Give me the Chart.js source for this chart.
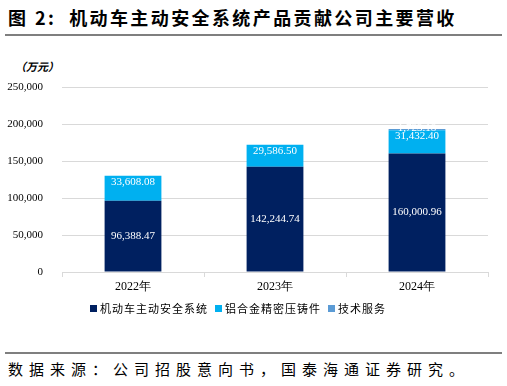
<!DOCTYPE html>
<html><head><meta charset="utf-8">
<script src="https://cdn.jsdelivr.net/npm/chart.js@4/dist/chart.umd.min.js"></script>
<style>
html,body{margin:0;padding:0;background:#fff;width:507px;height:386px;overflow:hidden;font-family:"Noto Sans CJK SC",sans-serif;}
#title{position:absolute;left:8px;top:4px;font-size:18px;font-weight:bold;color:#000;letter-spacing:2.4px;white-space:nowrap;}
.rule{position:absolute;left:5px;width:497px;height:2px;background:#7f7f7f;}
#unit{position:absolute;left:15px;top:58px;font-size:11px;font-weight:bold;font-style:italic;color:#000;}
#src{position:absolute;left:8px;top:358px;font-size:15px;color:#000;letter-spacing:6px;white-space:nowrap;}
#wrap{position:absolute;left:0;top:55px;width:507px;height:250px;}
#legend{position:absolute;top:300px;left:0;width:507px;font-size:11px;color:#000;}
.li{position:absolute;top:0;display:flex;align-items:center;letter-spacing:1px;}
.sw{width:7px;height:7px;margin-right:3px;}
</style></head>
<body>
<div id="title">图 2:&nbsp; 机动车主动安全系统产品贡献公司主要营收</div>
<div class="rule" style="top:34px"></div>
<div id="unit">（万元）</div>
<div id="wrap"><canvas id="c"></canvas></div>
<div id="legend"></div>
<div class="rule" style="top:352px"></div>
<div id="src">数据来源：公司招股意向书，国泰海通证券研究。</div>
<script>
const categories = ["2022年", "2023年", "2024年"];
const seriesNames = ["机动车主动安全系统", "铝合金精密压铸件", "技术服务"];
const activeSafety = [96388.47, 142244.74, 160000.96];
const aluminumCasting = [33608.08, 29586.50, 31432.40];
const techService = [0, 0, 1723.18];
const yTicks = [0, 50000, 100000, 150000, 200000, 250000];
const colors = ["#002060", "#00B0F0", "#5B9BD5"];

const fmt = v => v.toLocaleString('en-US', {minimumFractionDigits: 2, maximumFractionDigits: 2});

const legendPos = [90, 215, 328];
const lg = document.getElementById('legend');
seriesNames.forEach((n, i) => {
  const d = document.createElement('div');
  d.className = 'li';
  d.style.left = legendPos[i] + 'px';
  d.innerHTML = '<div class="sw" style="background:' + colors[i] + '"></div><span>' + n + '</span>';
  lg.appendChild(d);
});

const labelPlugin = {
  id: 'labels',
  afterDatasetsDraw(chart) {
    const ctx = chart.ctx;
    ctx.save();
    ctx.fillStyle = '#fff';
    ctx.font = '11px "Liberation Serif", serif';
    ctx.textAlign = 'center';
    ctx.textBaseline = 'middle';
    chart.data.datasets.forEach((ds, di) => {
      const meta = chart.getDatasetMeta(di);
      meta.data.forEach((el, i) => {
        const v = ds.data[i];
        if (!v) return;
        let y;
        if (di === 0) y = (el.y + el.base) / 2;
        else if (di === 1) y = el.y + 6;
        else y = el.y - 1;
        ctx.fillText(fmt(v), el.x, y);
      });
    });
    ctx.restore();
  }
};

new Chart(document.getElementById('c'), {
  type: 'bar',
  data: {
    labels: categories,
    datasets: [
      {label: seriesNames[0], data: activeSafety, backgroundColor: colors[0]},
      {label: seriesNames[1], data: aluminumCasting, backgroundColor: colors[1]},
      {label: seriesNames[2], data: techService, backgroundColor: colors[2]}
    ]
  },
  options: {
    responsive: true,
    maintainAspectRatio: false,
    animation: false,
    layout: {padding: {top: 32, right: 19, left: 0, bottom: 0}},
    datasets: {bar: {categoryPercentage: 1.0, barPercentage: 0.4}},
    plugins: {legend: {display: false}, tooltip: {enabled: false}},
    scales: {
      x: {
        stacked: true,
        afterFit(s) { s.height = 33; },
        grid: {display: true, drawOnChartArea: false, drawTicks: true, tickLength: 5, color: '#d9d9d9', offset: true},
        border: {display: true, color: '#d9d9d9'},
        ticks: {font: {family: '"Liberation Serif", serif', size: 12}, color: '#000', padding: 3}
      },
      y: {
        stacked: true,
        min: 0, max: 250000,
        afterFit(s) { s.width = 62; },
        afterBuildTicks(s) { s.ticks = yTicks.map(v => ({value: v})); },
        grid: {color: '#d9d9d9', drawTicks: false},
        border: {display: false},
        ticks: {font: {family: '"Liberation Serif", serif', size: 11}, color: '#000', padding: 19,
          callback: v => v.toLocaleString('en-US')}
      }
    }
  },
  plugins: [labelPlugin]
});
</script>
</body></html>
